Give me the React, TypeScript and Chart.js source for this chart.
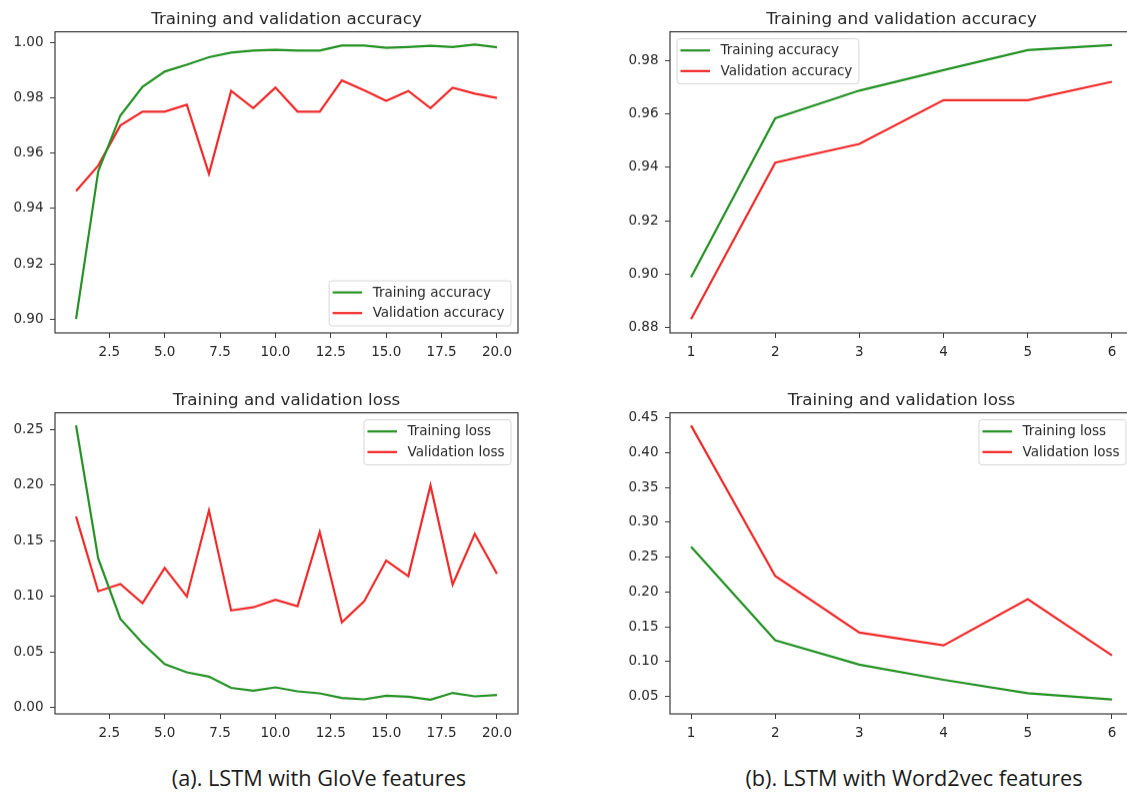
import React, { useEffect, useRef } from "react";
import { Chart, registerables } from "chart.js";

Chart.register(...registerables);

// ---------- data ----------
const gloveEpochs = [1, 2, 3, 4, 5, 6, 7, 8, 9, 10, 11, 12, 13, 14, 15, 16, 17, 18, 19, 20];
const gloveTrainAcc = [0.9, 0.9534, 0.9736, 0.984, 0.9895, 0.992, 0.9947, 0.9964, 0.9971, 0.9974, 0.9971, 0.9971, 0.9989, 0.9989, 0.9981, 0.9984, 0.9988, 0.9984, 0.9993, 0.9983];
const gloveValAcc = [0.9463, 0.9555, 0.97, 0.975, 0.975, 0.9775, 0.9525, 0.9825, 0.9763, 0.9837, 0.975, 0.975, 0.9863, 0.9827, 0.9789, 0.9825, 0.9763, 0.9837, 0.9815, 0.98];
const gloveTrainLoss = [0.2536, 0.134, 0.0796, 0.0576, 0.039, 0.0315, 0.0276, 0.0175, 0.015, 0.018, 0.0144, 0.0126, 0.0085, 0.0072, 0.0105, 0.0096, 0.0069, 0.013, 0.0099, 0.0112];
const gloveValLoss = [0.1717, 0.1044, 0.111, 0.0936, 0.1255, 0.0997, 0.1771, 0.0871, 0.09, 0.0967, 0.0909, 0.1576, 0.0765, 0.0952, 0.1321, 0.118, 0.1996, 0.1105, 0.1561, 0.1201];

const w2vEpochs = [1, 2, 3, 4, 5, 6];
const w2vTrainAcc = [0.8988, 0.9584, 0.9688, 0.9765, 0.984, 0.9859];
const w2vValAcc = [0.8831, 0.9418, 0.9488, 0.9652, 0.9652, 0.9721];
const w2vTrainLoss = [0.2651, 0.1307, 0.0957, 0.074, 0.0548, 0.0457];
const w2vValLoss = [0.4389, 0.2229, 0.1418, 0.1235, 0.1897, 0.1091];

const gloveXTicks = [2.5, 5, 7.5, 10, 12.5, 15, 17.5, 20];
const w2vXTicks = [1, 2, 3, 4, 5, 6];
const gloveAccTicks = [0.9, 0.92, 0.94, 0.96, 0.98, 1.0];
const w2vAccTicks = [0.88, 0.9, 0.92, 0.94, 0.96, 0.98];
const gloveLossTicks = [0, 0.05, 0.1, 0.15, 0.2, 0.25];
const w2vLossTicks = [0.05, 0.1, 0.15, 0.2, 0.25, 0.3, 0.35, 0.4, 0.45];

const accTitle = "Training and validation accuracy";
const lossTitle = "Training and validation loss";
const accLabels = ["Training accuracy", "Validation accuracy"];
const lossLabels = ["Training loss", "Validation loss"];
const captionA = "(a). LSTM with GloVe features";
const captionB = "(b). LSTM with Word2vec features";

// ---------- style ----------
const GREEN = "#259225";
const RED = "#f22a2a";
const TEXT = "#282828";
const AXIS = "#3a3a3a";
const FONT = "'DejaVu Sans', sans-serif";
const TICK_SIZE = 13.5;
const TITLE_SIZE = 16.7;

const YW = 55; // y axis width
const XH = 40; // x axis height
const TITLE_PAD_TOP = 6.4;
const TITLE_PAD_BOTTOM = 2.2;
const TITLE_H = TITLE_PAD_TOP + TITLE_PAD_BOTTOM + TITLE_SIZE * 1.2;
const RP = 12;
const AREA_W = 463;
const AREA_H = 301;

type LegendPos = "lr" | "ur" | "ul";

type PanelProps = {
  areaLeft: number;
  areaTop: number;
  title: string;
  labels: string[];
  xs: number[];
  train: number[];
  val: number[];
  xMin: number;
  xMax: number;
  xTicks: number[];
  xDigits: number;
  yMin: number;
  yMax: number;
  yTicks: number[];
  legend: LegendPos;
};

const framePlugin = {
  id: "frameBox",
  afterDatasetsDraw(chart: any) {
    const { ctx, chartArea } = chart;
    ctx.save();
    ctx.strokeStyle = AXIS;
    ctx.lineWidth = 1.2;
    ctx.strokeRect(chartArea.left, chartArea.top, chartArea.right - chartArea.left, chartArea.bottom - chartArea.top);
    ctx.restore();
  },
};

const legendPlugin = {
  id: "mplLegend",
  afterDraw(chart: any, _args: any, opts: any) {
    const { ctx, chartArea } = chart;
    const ds = chart.data.datasets;
    ctx.save();
    ctx.font = `${TICK_SIZE}px ${FONT}`;
    let tw = 0;
    ds.forEach((d: any) => {
      tw = Math.max(tw, ctx.measureText(d.label).width);
    });
    const textOff = 43.5;
    const w = textOff + tw + 6.5;
    const h = 45;
    const m = 7;
    const pos: LegendPos = opts.pos;
    const left = pos === "ul" ? chartArea.left + m : chartArea.right - m - w;
    const top = pos === "lr" ? chartArea.bottom - m - h : chartArea.top + m;
    const r = 3;
    ctx.beginPath();
    ctx.moveTo(left + r, top);
    ctx.lineTo(left + w - r, top);
    ctx.arcTo(left + w, top, left + w, top + r, r);
    ctx.lineTo(left + w, top + h - r);
    ctx.arcTo(left + w, top + h, left + w - r, top + h, r);
    ctx.lineTo(left + r, top + h);
    ctx.arcTo(left, top + h, left, top + h - r, r);
    ctx.lineTo(left, top + r);
    ctx.arcTo(left, top, left + r, top, r);
    ctx.closePath();
    ctx.fillStyle = "rgba(255,255,255,0.85)";
    ctx.fill();
    ctx.strokeStyle = "#d6d6d6";
    ctx.lineWidth = 1;
    ctx.stroke();
    ds.forEach((d: any, i: number) => {
      const y = top + 11.6 + i * 20.6;
      ctx.strokeStyle = d.borderColor;
      ctx.lineWidth = 2.2;
      ctx.beginPath();
      ctx.moveTo(left + 3.5, y);
      ctx.lineTo(left + 33, y);
      ctx.stroke();
      ctx.fillStyle = TEXT;
      ctx.textBaseline = "middle";
      ctx.textAlign = "left";
      ctx.fillText(d.label, left + textOff, y + 0.5);
    });
    ctx.restore();
  },
};

function Panel(p: PanelProps) {
  const ref = useRef<HTMLCanvasElement | null>(null);
  const cw = YW + AREA_W + RP;
  const ch = TITLE_H + AREA_H + XH;
  const cl = p.areaLeft - YW;
  const ct = p.areaTop - TITLE_H;

  useEffect(() => {
    if (!ref.current) return;
    const toPts = (ys: number[]) => p.xs.map((x, i) => ({ x, y: ys[i] }));
    const tickFont = { family: FONT, size: TICK_SIZE };
    const chart = new Chart(ref.current, {
      type: "line",
      data: {
        datasets: [
          { label: p.labels[0], data: toPts(p.train), borderColor: GREEN, backgroundColor: GREEN, borderWidth: 2.2, pointRadius: 0, tension: 0, fill: false },
          { label: p.labels[1], data: toPts(p.val), borderColor: RED, backgroundColor: RED, borderWidth: 2.2, pointRadius: 0, tension: 0, fill: false },
        ],
      },
      options: {
        animation: false,
        responsive: false,
        events: [],
        layout: { padding: { left: 0, top: 0, right: RP, bottom: 0 } },
        plugins: {
          legend: { display: false },
          tooltip: { enabled: false },
          title: {
            display: true,
            fullSize: false,
            text: p.title,
            color: TEXT,
            font: { family: FONT, size: TITLE_SIZE, weight: "normal" },
            padding: { top: TITLE_PAD_TOP, bottom: TITLE_PAD_BOTTOM },
          },
          mplLegend: { pos: p.legend },
        } as any,
        scales: {
          x: {
            type: "linear",
            min: p.xMin,
            max: p.xMax,
            afterBuildTicks: (s: any) => {
              s.ticks = p.xTicks.map((v) => ({ value: v }));
            },
            afterFit: (s: any) => {
              s.height = XH;
            },
            ticks: {
              autoSkip: false,
              maxRotation: 0,
              padding: 6,
              color: TEXT,
              font: tickFont,
              callback: (v: any) => Number(v).toFixed(p.xDigits),
            },
            grid: { display: true, drawOnChartArea: false, drawTicks: true, tickLength: 5, color: AXIS, lineWidth: 1 },
            border: { display: false },
          },
          y: {
            type: "linear",
            min: p.yMin,
            max: p.yMax,
            afterBuildTicks: (s: any) => {
              s.ticks = p.yTicks.map((v) => ({ value: v }));
            },
            afterFit: (s: any) => {
              s.width = YW;
            },
            ticks: {
              autoSkip: false,
              padding: 6.5,
              color: TEXT,
              font: tickFont,
              callback: (v: any) => Number(v).toFixed(2),
            },
            grid: { display: true, drawOnChartArea: false, drawTicks: true, tickLength: 5, color: AXIS, lineWidth: 1 },
            border: { display: false },
          },
        },
      } as any,
      plugins: [framePlugin, legendPlugin],
    });
    return () => chart.destroy();
  }, []);

  return (
    <canvas
      ref={ref}
      width={cw}
      height={ch}
      style={{ position: "absolute", left: cl, top: ct, width: cw, height: ch }}
    />
  );
}

export default function App() {
  const capStyle: React.CSSProperties = {
    position: "absolute",
    width: 500,
    textAlign: "center",
    top: 763,
    fontFamily: "'Open Sans', sans-serif",
    fontSize: 21.7,
    lineHeight: "30px",
    color: "#1c1c1c",
    whiteSpace: "nowrap",
  };
  return (
    <div style={{ position: "fixed", left: 0, top: 0, width: 1127, height: 792, overflow: "hidden", background: "#ffffff" }}>
      <Panel
        areaLeft={55}
        areaTop={32}
        title={accTitle}
        labels={accLabels}
        xs={gloveEpochs}
        train={gloveTrainAcc}
        val={gloveValAcc}
        xMin={0.05}
        xMax={20.95}
        xTicks={gloveXTicks}
        xDigits={1}
        yMin={0.895}
        yMax={1.0039}
        yTicks={gloveAccTicks}
        legend="lr"
      />
      <Panel
        areaLeft={670}
        areaTop={32}
        title={accTitle}
        labels={accLabels}
        xs={w2vEpochs}
        train={w2vTrainAcc}
        val={w2vValAcc}
        xMin={0.75}
        xMax={6.25}
        xTicks={w2vXTicks}
        xDigits={0}
        yMin={0.8779}
        yMax={0.99087}
        yTicks={w2vAccTicks}
        legend="ul"
      />
      <Panel
        areaLeft={55}
        areaTop={413}
        title={lossTitle}
        labels={lossLabels}
        xs={gloveEpochs}
        train={gloveTrainLoss}
        val={gloveValLoss}
        xMin={0.05}
        xMax={20.95}
        xTicks={gloveXTicks}
        xDigits={1}
        yMin={-0.0059}
        yMax={0.265}
        yTicks={gloveLossTicks}
        legend="ur"
      />
      <Panel
        areaLeft={670}
        areaTop={413}
        title={lossTitle}
        labels={lossLabels}
        xs={w2vEpochs}
        train={w2vTrainLoss}
        val={w2vValLoss}
        xMin={0.75}
        xMax={6.25}
        xTicks={w2vXTicks}
        xDigits={0}
        yMin={0.0251}
        yMax={0.4572}
        yTicks={w2vLossTicks}
        legend="ur"
      />
      <div style={{ ...capStyle, left: 319 - 250 }}>{captionA}</div>
      <div style={{ ...capStyle, left: 914 - 250 }}>{captionB}</div>
    </div>
  );
}
